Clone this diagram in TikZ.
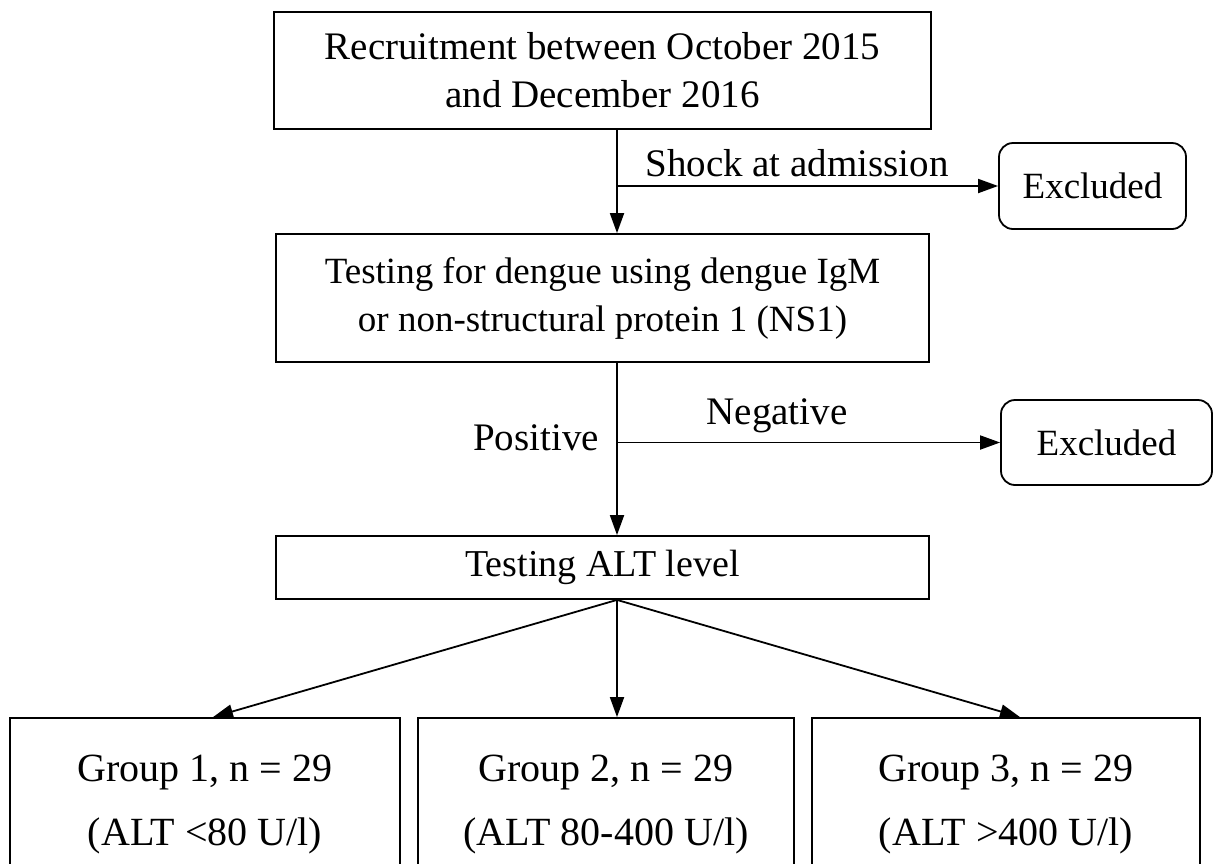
\documentclass[tikz,border=0pt]{standalone}
\usepackage{fontspec}
\setmainfont{Liberation Serif}
\usetikzlibrary{arrows.meta,calc}
\begin{document}
\begin{tikzpicture}[x=1pt,y=-1pt,
  font=\fontsize{37}{48}\selectfont,
  box/.style={draw,line width=1.8pt,align=center,inner sep=0pt},
  excl/.style={box,rounded corners=14pt},
  arr/.style={line width=1.8pt,-{Triangle[length=20pt,width=14pt]}},
  lbl/.style={inner sep=0pt,font=\fontsize{39}{48}\selectfont}]
\useasboundingbox (0,0) rectangle (1214,863);
\clip (0,0) rectangle (1214,863);
\fill[white] (0,0) rectangle (1214,863);

% main column
\node[box,minimum width=657pt,minimum height=117pt,font=\fontsize{39}{48}\selectfont]
  (rec) at (602.5,70.5) {Recruitment between October 2015\\and December 2016};
\node[box,minimum width=653pt,minimum height=128pt] (test) at (602.5,298)
  {Testing for dengue using dengue IgM\\or non-structural protein 1 (NS1)};
\node[box,minimum width=653pt,minimum height=63pt,font=\fontsize{38}{48}\selectfont]
  (alt) at (602.5,567.5) {Testing ALT level};

% exclusion boxes
\node[excl,minimum width=187pt,minimum height=86pt] (ex1) at (1092.5,186) {Excluded};
\node[excl,minimum width=211pt,minimum height=85pt] (ex2) at (1106.5,442.5) {Excluded};

% groups (lower edge runs past the page)
\tikzset{grp/.style={box,minimum height=172pt,font=\fontsize{40}{64}\selectfont}}
\node[grp,minimum width=390pt] (g1) at (205,804) {Group 1, n = 29\\(ALT <80 U/l)};
\node[grp,minimum width=376pt] (g2) at (606,804) {Group 2, n = 29\\(ALT 80-400 U/l)};
\node[grp,minimum width=388pt] (g3) at (1006,804) {Group 3, n = 29\\(ALT >400 U/l)};

% flow axis
\coordinate (ax) at (617,0);
\coordinate (s1) at (ax |- ex1);
\coordinate (s2) at (ax |- ex2);
\coordinate (altout) at (alt.south -| ax);

\draw[arr] (rec.south -| ax) -- (test.north -| ax);
\draw[arr] (s1) -- (ex1.west);
\draw[arr] (test.south -| ax) -- (alt.north -| ax);
\draw[arr] (s2) -- (ex2.west);
\draw[arr] (altout) -- (g1.north -| 213,0);
\draw[arr] (altout) -- (g2.north -| ax);
\draw[arr] (altout) -- (g3.north -| 1020,0);

% branch labels
\node[lbl,anchor=base] (shock) at (797,176) {Shock at admission};
\node[lbl,anchor=base] (neg) at (777,424) {Negative};
\node[lbl,anchor=base] (pos) at (536,450) {Positive};
\end{tikzpicture}
\end{document}
